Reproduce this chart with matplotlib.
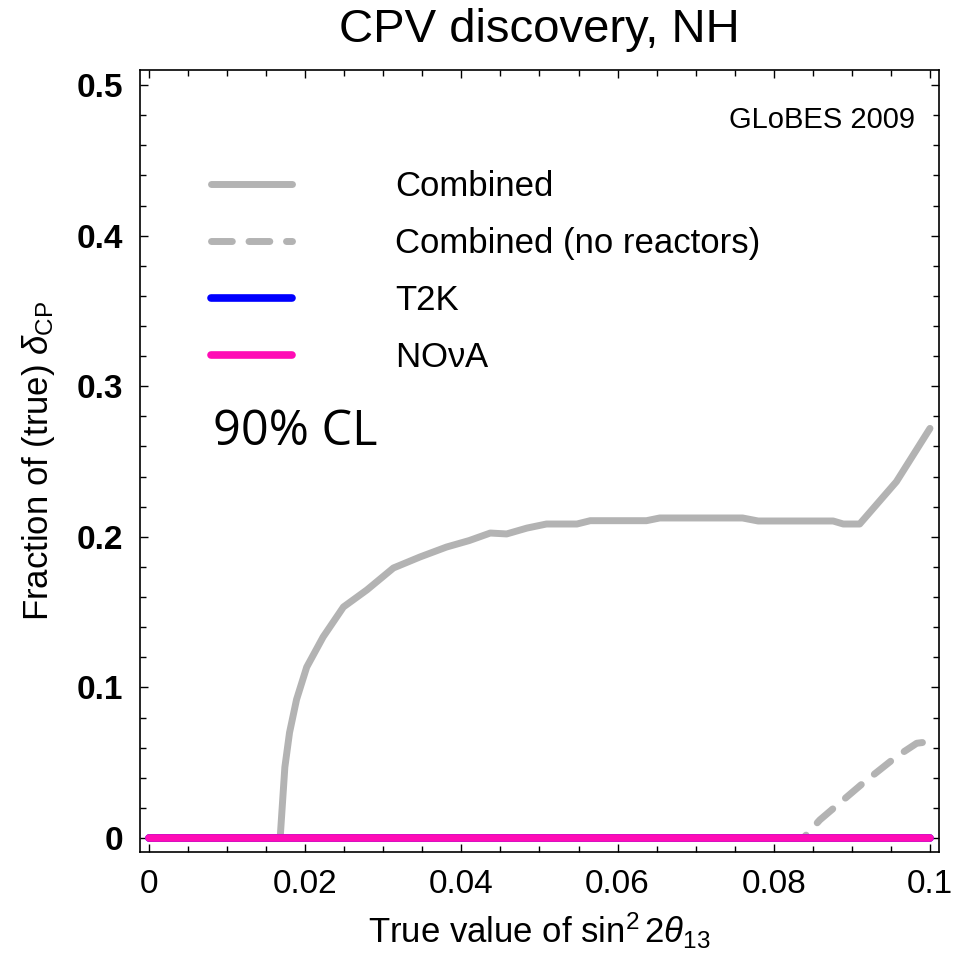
import numpy as np
import matplotlib
matplotlib.use("Agg")
import matplotlib.pyplot as plt
from matplotlib.ticker import MultipleLocator

plt.rcParams['font.family'] = ['Liberation Sans', 'DejaVu Sans']
plt.rcParams['mathtext.fontset'] = 'custom'
plt.rcParams['mathtext.rm'] = 'Liberation Sans'
plt.rcParams['mathtext.it'] = 'Liberation Sans:italic'

# true sin^2 2theta13 vs fraction of delta_CP (90% CL)
x_comb = [0.0, 0.0168, 0.0174, 0.0180, 0.0189, 0.0202, 0.0223, 0.0249, 0.0279,
          0.0313, 0.0347, 0.0381, 0.0410, 0.0437, 0.0458, 0.0484, 0.0509, 0.0548,
          0.0565, 0.0637, 0.0654, 0.0760, 0.0780, 0.0876, 0.0889, 0.0910, 0.0957,
          0.1000]
y_comb = [0.0, 0.0, 0.047, 0.070, 0.092, 0.1135, 0.1335, 0.1534, 0.1647,
          0.1793, 0.1866, 0.1932, 0.1975, 0.2025, 0.2019, 0.2058, 0.2085, 0.2085,
          0.2107, 0.2107, 0.2125, 0.2125, 0.2105, 0.2105, 0.2085, 0.2085, 0.2366,
          0.272]

x_norea = [0.0, 0.0838, 0.0859, 0.0914, 0.0957, 0.0983, 0.1000]
y_norea = [0.0, 0.0, 0.012, 0.0363, 0.054, 0.0629, 0.064]

x_t2k = [0.0, 0.1]
y_t2k = [0.0, 0.0]
x_nova = [0.0, 0.1]
y_nova = [0.0, 0.0]

labels = ['Combined', 'Combined (no reactors)', 'T2K', r'NO$\mathrm{\nu}$A']

fig = plt.figure(figsize=(9.7, 9.56), dpi=100)
ax = fig.add_axes([0.1443, 0.1088, 0.8237, 0.818])

gray = '#b3b3b3'
ax.plot(x_comb, y_comb, color=gray, lw=5, solid_capstyle='round',
        solid_joinstyle='round', label=labels[0])
ax.plot(x_norea, y_norea, color=gray, lw=5, dashes=(3.0, 2.4),
        dash_capstyle='round', label=labels[1])
ax.plot(x_t2k, y_t2k, color='#0000ff', lw=5.5, solid_capstyle='round',
        label=labels[2])
ax.plot(x_nova, y_nova, color='#ff0cb5', lw=5.5, solid_capstyle='round',
        label=labels[3])

ax.set_xlim(-0.00115, 0.10115)
ax.set_ylim(-0.0093, 0.51)

ax.xaxis.set_minor_locator(MultipleLocator(0.005))
ax.yaxis.set_minor_locator(MultipleLocator(0.02))
ax.set_xticks([0, 0.02, 0.04, 0.06, 0.08, 0.1])
ax.set_xticklabels(['0', '0.02', '0.04', '0.06', '0.08', '0.1'])
ax.set_yticks([0, 0.1, 0.2, 0.3, 0.4, 0.5])
ax.set_yticklabels(['0', '0.1', '0.2', '0.3', '0.4', '0.5'], fontweight='bold')

ax.tick_params(which='both', direction='in', top=True, right=True, width=1)
ax.tick_params(which='major', length=6, labelsize=24)
ax.tick_params(which='minor', length=4)
ax.tick_params(axis='x', pad=12)
ax.tick_params(axis='y', pad=12)
for s in ax.spines.values():
    s.set_linewidth(1.2)

ax.set_xlabel(r'True value of $\sin^2 2\theta_{13}$', fontsize=25, labelpad=8)
ax.set_ylabel(r'Fraction of (true) $\delta_{\rm CP}$', fontsize=25, labelpad=14)
ax.set_title('CPV discovery, NH', fontsize=34, pad=20)

ax.text(0.97, 0.936, 'GLoBES 2009', transform=ax.transAxes, fontsize=21,
        ha='right', va='center')
ax.text(0.0082, 0.261, '90% CL', fontsize=35, family='Open Sans',
        ha='left', va='baseline')

ax.legend(loc='upper left', bbox_to_anchor=(0.0889, 0.872), frameon=False,
          fontsize=25, handlelength=2.33, handletextpad=2.97,
          labelspacing=0.69, borderpad=0, borderaxespad=0)

fig.savefig('out.png', dpi=100)
